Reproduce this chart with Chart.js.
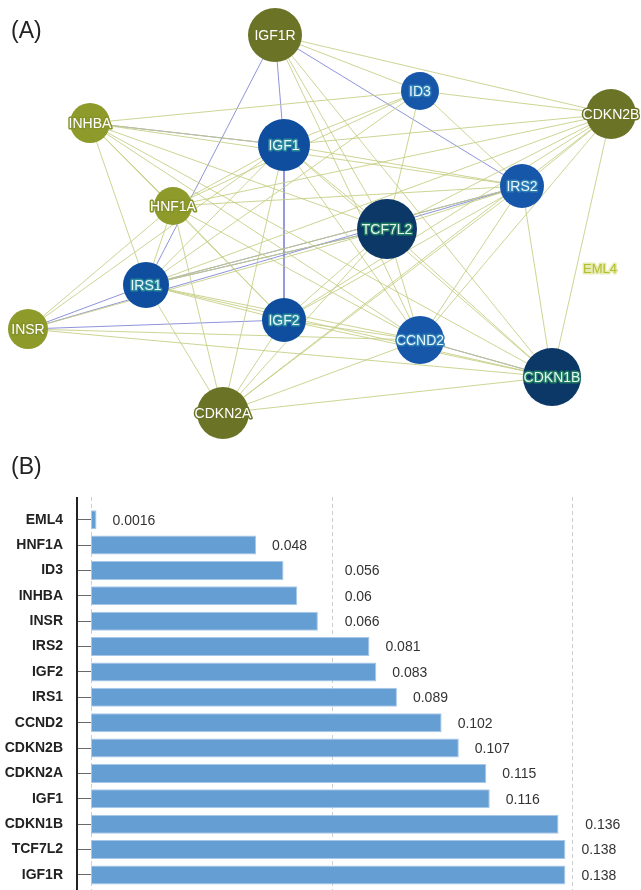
<!DOCTYPE html>
<html>
<head>
<meta charset="utf-8">
<script src="https://cdn.jsdelivr.net/npm/chart.js@4/dist/chart.umd.min.js"></script>
<style>
  html, body { margin: 0; padding: 0; background: #fff; }
  #wrap { position: relative; width: 641px; height: 890px; overflow: hidden; }
  canvas { position: absolute; left: 0; }
  #netCanvas { top: 0; }
  #barCanvas { top: 450px; }
  .panel { position: absolute; left: 11px; font: 23px "Liberation Sans", Arial, sans-serif; color: #222; }
</style>
</head>
<body>
<div id="wrap">
  <canvas id="netCanvas" width="641" height="450"></canvas>
  <canvas id="barCanvas" width="641" height="460"></canvas>
  <div class="panel" style="top:17px">(A)</div>
  <div class="panel" style="top:453px">(B)</div>
</div>
<script>
// ---------- Panel A: gene network ----------
const genes   = ['IGF1R','INHBA','IGF1','ID3','CDKN2B','HNF1A','IRS2','TCF7L2','IRS1','INSR','IGF2','CCND2','CDKN2A','CDKN1B','EML4'];
const geneX   = [275, 90, 284, 420, 611, 173, 522, 387, 146, 28, 284, 420, 223, 552, 600];
const geneY   = [35, 123, 145, 91, 114, 206, 186, 229, 285, 329, 320, 340, 413, 377, 268];
const geneRad = [27, 20, 26, 19, 25, 19, 22, 30, 23, 20, 22, 24, 26, 29, 0];
const geneKind = ['olive','lightOlive','blue','lightBlue','olive','lightOlive','lightBlue','navy','blue','lightOlive','blue','lightBlue','olive','navy','label'];

// physical interactions (violet) and co-expression links (olive)
const violetLinks = [
  ['IGF1R','IGF1'],['IGF1R','IRS1'],['IGF1R','IRS2'],['IGF1','IGF2'],['INSR','IRS1'],
  ['INSR','IGF2'],['IRS1','IRS2'],['INSR','IRS2'],['CCND2','CDKN1B'],['INHBA','IGF1'],['TCF7L2','IRS1']
];
const oliveLinks = [
  ['IGF1R','ID3'],['IGF1R','CDKN2B'],['IGF1R','TCF7L2'],['IGF1R','CCND2'],['IGF1R','CDKN1B'],
  ['INHBA','ID3'],['INHBA','IRS2'],['INHBA','TCF7L2'],['INHBA','CCND2'],['INHBA','HNF1A'],['INHBA','IRS1'],['INHBA','CDKN1B'],['INHBA','IGF2'],['INHBA','IGF1'],
  ['IGF1','ID3'],['IGF1','CDKN2B'],['IGF1','IRS2'],['IGF1','TCF7L2'],['IGF1','CDKN1B'],['IGF1','HNF1A'],['IGF1','IRS1'],['IGF1','CDKN2A'],['IGF1','CCND2'],['IGF1','INSR'],
  ['HNF1A','IRS2'],['HNF1A','IRS1'],['HNF1A','CCND2'],['HNF1A','ID3'],['HNF1A','IGF2'],['HNF1A','CDKN2A'],
  ['ID3','CDKN2B'],['ID3','IRS2'],['ID3','IRS1'],['ID3','TCF7L2'],
  ['CDKN2B','IRS2'],['CDKN2B','TCF7L2'],['CDKN2B','IRS1'],['CDKN2B','CCND2'],['CDKN2B','IGF2'],['CDKN2B','CDKN2A'],['CDKN2B','CDKN1B'],['CDKN2B','HNF1A'],
  ['IRS2','TCF7L2'],['IRS2','CCND2'],['IRS2','CDKN1B'],['IRS2','IGF2'],['IRS2','CDKN2A'],['IRS2','IRS1'],
  ['TCF7L2','IRS1'],['TCF7L2','CCND2'],['TCF7L2','CDKN1B'],['TCF7L2','IGF2'],['TCF7L2','CDKN2A'],
  ['IRS1','IGF2'],['IRS1','CCND2'],['IRS1','CDKN1B'],['IRS1','CDKN2A'],
  ['INSR','CCND2'],['INSR','CDKN1B'],['INSR','HNF1A'],['INSR','TCF7L2'],
  ['IGF2','CCND2'],['IGF2','CDKN1B'],['IGF2','CDKN2A'],
  ['CCND2','CDKN1B'],['CCND2','CDKN2A'],['CDKN2A','CDKN1B']
];

const kindStyle = {
  olive:      { fill: '#6b7426', text: '#ffffff', halo: '#6b7426' },
  lightOlive: { fill: '#8e9b2a', text: '#ffffff', halo: '#86932a' },
  blue:       { fill: '#0f4e9e', text: '#e6f7ff', halo: '#2a8a9a' },
  lightBlue:  { fill: '#1757a9', text: '#e6f7ff', halo: '#2f7db5' },
  navy:       { fill: '#0b3867', text: '#e4f6ee', halo: '#1f7a62' },
  label:      { fill: 'rgba(0,0,0,0)', text: '#b3be2c', halo: '#e6ebb4' }
};

function pt(name) {
  const i = genes.indexOf(name);
  return { x: geneX[i], y: geneY[i] };
}
function linkSet(list, color) {
  return list.map(([a, b]) => ({
    type: 'scatter',
    data: [pt(a), pt(b)],
    showLine: true,
    borderColor: color,
    borderWidth: 1,
    pointRadius: 0,
    order: 2
  }));
}

const nodeLabels = {
  id: 'nodeLabels',
  afterDatasetsDraw(chart) {
    const { ctx, scales: { x, y } } = chart;
    ctx.save();
    ctx.textAlign = 'center';
    ctx.textBaseline = 'middle';
    ctx.lineJoin = 'round';
    genes.forEach((g, i) => {
      const st = kindStyle[geneKind[i]];
      const px = x.getPixelForValue(geneX[i]);
      const py = y.getPixelForValue(geneY[i]);
      ctx.font = (geneKind[i] === 'label' ? '13px' : '14px') + ' "Liberation Sans", Arial, sans-serif';
      ctx.strokeStyle = st.halo;
      ctx.lineWidth = 3;
      ctx.strokeText(g, px, py + 1);
      ctx.fillStyle = st.text;
      ctx.fillText(g, px, py + 1);
    });
    ctx.restore();
  }
};

new Chart(document.getElementById('netCanvas'), {
  type: 'scatter',
  data: {
    datasets: [
      {
        data: genes.map((g, i) => ({ x: geneX[i], y: geneY[i] })),
        pointRadius: geneRad,
        pointHoverRadius: geneRad,
        pointBackgroundColor: geneKind.map(k => kindStyle[k].fill),
        pointBorderWidth: 0,
        order: 0
      },
      ...linkSet(oliveLinks, 'rgba(196,204,128,0.85)'),
      ...linkSet(violetLinks, 'rgba(130,136,214,0.9)')
    ]
  },
  options: {
    responsive: false,
    animation: false,
    layout: { padding: 0, autoPadding: false },
    plugins: { legend: { display: false }, tooltip: { enabled: false } },
    scales: {
      x: { type: 'linear', min: 0, max: 641, display: false },
      y: { type: 'linear', min: 0, max: 450, reverse: true, display: false }
    }
  },
  plugins: [nodeLabels]
});

// ---------- Panel B: bar chart ----------
const barGenes  = ['EML4','HNF1A','ID3','INHBA','INSR','IRS2','IGF2','IRS1','CCND2','CDKN2B','CDKN2A','IGF1','CDKN1B','TCF7L2','IGF1R'];
const barValues = [0.0016, 0.048, 0.056, 0.06, 0.066, 0.081, 0.083, 0.089, 0.102, 0.107, 0.115, 0.116, 0.136, 0.138, 0.138];
const gridTicks = [0, 0.07, 0.14];

const barDecor = {
  id: 'barDecor',
  beforeDatasetsDraw(chart) {
    const { ctx, chartArea, scales: { x } } = chart;
    const top = chartArea.top - 10, bottom = chart.height;
    ctx.save();
    ctx.strokeStyle = '#cfcfcf';
    ctx.lineWidth = 1;
    ctx.setLineDash([4, 3]);
    gridTicks.forEach(v => {
      const px = Math.round(x.getPixelForValue(v)) + 0.5;
      ctx.beginPath(); ctx.moveTo(px, top); ctx.lineTo(px, bottom); ctx.stroke();
    });
    ctx.setLineDash([]);
    ctx.strokeStyle = '#222';
    ctx.lineWidth = 2;
    const ax = chartArea.left - 14;
    ctx.beginPath(); ctx.moveTo(ax, top); ctx.lineTo(ax, bottom); ctx.stroke();
    ctx.restore();
  },
  afterDatasetsDraw(chart) {
    const { ctx, scales: { x } } = chart;
    const meta = chart.getDatasetMeta(0);
    const gridPx = gridTicks.map(v => x.getPixelForValue(v));
    ctx.save();
    ctx.font = '14px "Liberation Sans", Arial, sans-serif';
    ctx.fillStyle = '#333';
    ctx.textAlign = 'left';
    ctx.textBaseline = 'middle';
    meta.data.forEach((bar, i) => {
      const txt = String(barValues[i]);
      const w = ctx.measureText(txt).width;
      let sx = bar.x + 16;
      // keep the value label clear of the dashed grid lines
      gridPx.forEach(g => { if (g >= sx - 6 && g <= sx + w) sx = g + 13; });
      ctx.fillText(txt, sx, bar.y + 1);
    });
    ctx.restore();
  }
};

new Chart(document.getElementById('barCanvas'), {
  type: 'bar',
  data: {
    labels: barGenes,
    datasets: [{
      data: barValues,
      backgroundColor: '#659ed3',
      borderColor: '#a9c8e7',
      borderWidth: 1,
      borderSkipped: false,
      barPercentage: 0.75,
      categoryPercentage: 1
    }]
  },
  options: {
    indexAxis: 'y',
    responsive: false,
    animation: false,
    layout: { padding: { top: 57, bottom: 2, left: 0, right: 0 }, autoPadding: false },
    plugins: { legend: { display: false }, tooltip: { enabled: false } },
    scales: {
      x: { type: 'linear', min: 0, max: 0.16, display: false },
      y: {
        type: 'category',
        grid: { offset: false, drawOnChartArea: false, drawTicks: true, tickLength: 14, color: '#6a6a6a', lineWidth: 1 },
        border: { display: false },
        ticks: {
          padding: 14,
          color: '#222',
          font: { family: '"Liberation Sans", Arial, sans-serif', size: 14, weight: 'bold' }
        },
        afterFit(scale) { scale.width = 91; }
      }
    }
  },
  plugins: [barDecor]
});
</script>
</body>
</html>
